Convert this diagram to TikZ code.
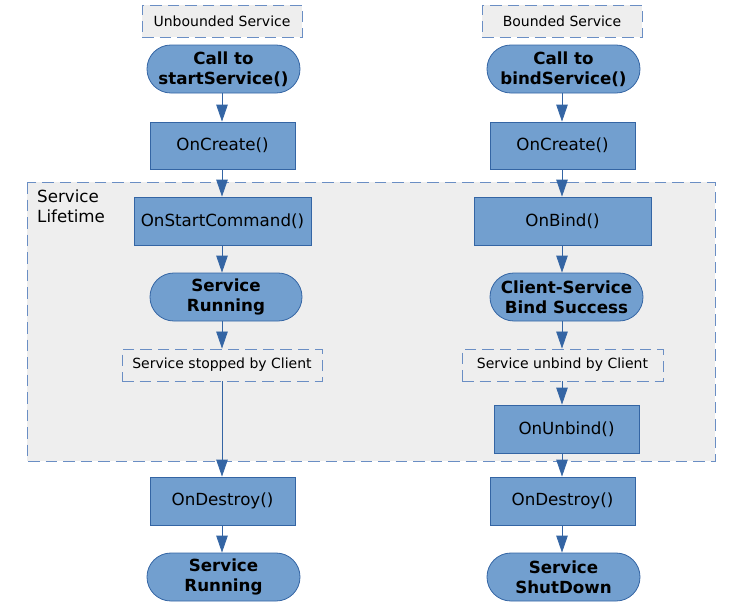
\documentclass[tikz,border=0pt]{standalone}
\usepackage{fontspec}
\setmainfont{DejaVu Sans}
\usetikzlibrary{arrows.meta}
\definecolor{boxfill}{HTML}{729FCF}
\definecolor{boxline}{HTML}{3465A4}
\definecolor{noteline}{HTML}{6A8EC4}
\definecolor{notefill}{HTML}{EEEEEE}
\tikzset{
  proc/.style={draw=boxline, fill=boxfill, line width=0.8pt, inner sep=0pt,
    text=black, font=\fontsize{16.7}{20}\selectfont},
  term/.style={proc, rounded corners=23.9pt, align=center,
    font=\fontsize{16.7}{20}\selectfont\bfseries},
  note/.style={draw=noteline, fill=notefill, line width=0.9pt, inner sep=0pt,
    dash pattern=on 11.5pt off 6pt, text=black, font=\fontsize{14}{17}\selectfont},
  flow/.style={draw=boxline, line width=0.8pt, -{Triangle[width=11.5pt,length=17pt]}},
}
\begin{document}
\begin{tikzpicture}[x=1pt, y=-1pt]
    \useasboundingbox (0,0) rectangle (744,605);
    %% Service lifetime area
    \draw[note] (27,182) rectangle (715,461);
    \node[anchor=north west, inner sep=0pt, align=left, text=black,
      font=\fontsize{16.7}{20}\selectfont] (life) at (37,190) {Service\\Lifetime};
    %% Arrow columns
    \coordinate (colL) at (222,0);
    \coordinate (colR) at (562,0);
    %% Unbounded service
    \node[note, minimum width=160pt, minimum height=32pt] (unb) at (222,21) {Unbounded Service};
    \node[term, minimum width=153pt, minimum height=48pt] (callS) at (223.5,69) {Call to\\startService()};
    \node[proc, minimum width=145pt, minimum height=47pt] (createL) at (222.5,145.5) {OnCreate()};
    \node[proc, minimum width=177pt, minimum height=48pt] (startcmd) at (222.5,221) {OnStartCommand()};
    \node[term, minimum width=152pt, minimum height=48pt] (runL) at (226,297) {Service\\Running};
    \node[note, minimum width=200pt, minimum height=32pt] (stopped) at (222,365) {Service stopped by Client};
    \node[proc, minimum width=145pt, minimum height=48pt] (destroyL) at (222.5,501) {OnDestroy()};
    \node[term, minimum width=153pt, minimum height=48pt] (endL) at (223.5,577) {Service\\Running};
    %% Bounded service
    \node[note, minimum width=160pt, minimum height=32pt] (bnd) at (562,21) {Bounded Service};
    \node[term, minimum width=153pt, minimum height=48pt] (callB) at (563.5,69) {Call to\\bindService()};
    \node[proc, minimum width=145pt, minimum height=47pt] (createR) at (562.5,145.5) {OnCreate()};
    \node[proc, minimum width=177pt, minimum height=48pt] (onbind) at (562.5,221) {OnBind()};
    \node[term, minimum width=153pt, minimum height=48pt] (success) at (566.5,297) {Client-Service\\Bind Success};
    \node[note, minimum width=201pt, minimum height=32pt] (unbind) at (562.5,365) {Service unbind by Client};
    \node[proc, minimum width=145pt, minimum height=48pt] (onunbind) at (566.5,429) {OnUnbind()};
    \node[proc, minimum width=145pt, minimum height=48pt] (destroyR) at (562.5,501) {OnDestroy()};
    \node[term, minimum width=153pt, minimum height=48pt] (endR) at (563.5,577) {Service\\ShutDown};
    %% Flow left
    \draw[flow] (callS.south -| colL) -- (createL.north -| colL);
    \draw[flow] (createL.south -| colL) -- (startcmd.north -| colL);
    \draw[flow] (startcmd.south -| colL) -- (runL.north -| colL);
    \draw[flow] (runL.south -| colL) -- (stopped.north -| colL);
    \draw[flow] (stopped.south -| colL) -- (destroyL.north -| colL);
    \draw[flow] (destroyL.south -| colL) -- (endL.north -| colL);
    %% Flow right
    \draw[flow] (callB.south -| colR) -- (createR.north -| colR);
    \draw[flow] (createR.south -| colR) -- (onbind.north -| colR);
    \draw[flow] (onbind.south -| colR) -- (success.north -| colR);
    \draw[flow] (success.south -| colR) -- (unbind.north -| colR);
    \draw[flow] (unbind.south -| colR) -- (onunbind.north -| colR);
    \draw[flow] (onunbind.south -| colR) -- (destroyR.north -| colR);
    \draw[flow] (destroyR.south -| colR) -- (endR.north -| colR);
\end{tikzpicture}
\end{document}
